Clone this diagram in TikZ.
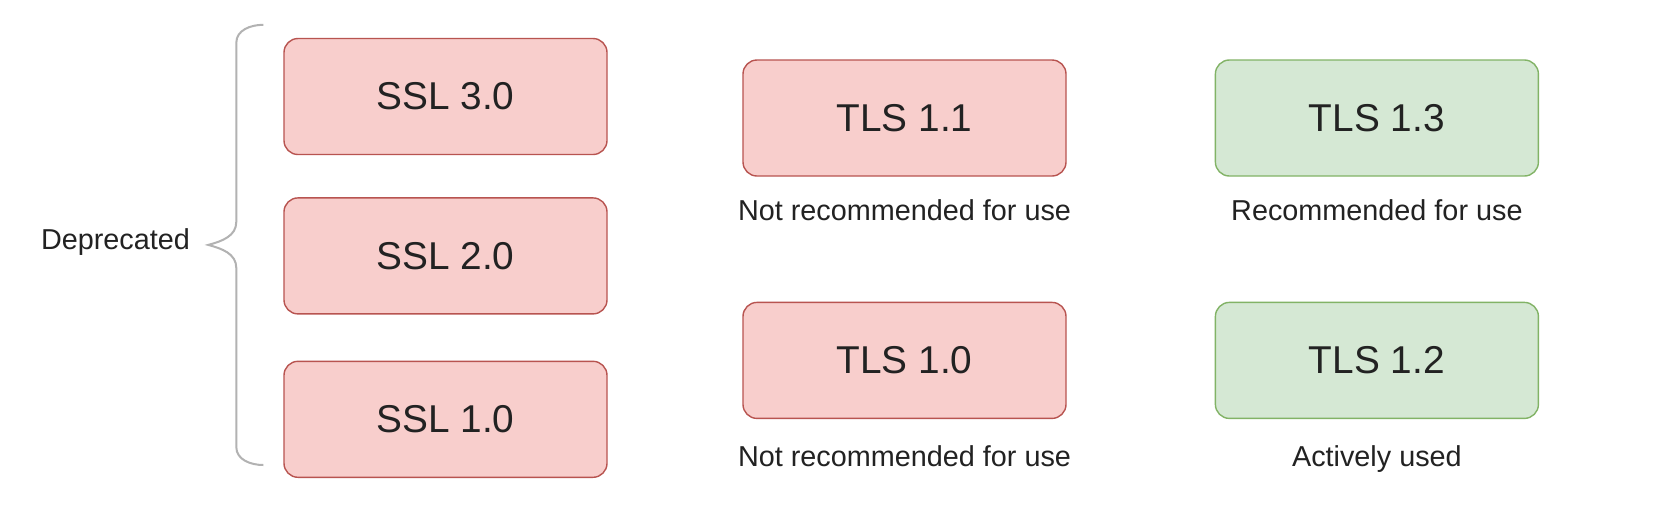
\documentclass[tikz,border=0pt]{standalone}
\usepackage{fontspec}
\setmainfont{Liberation Sans}
\usetikzlibrary{positioning,calc}

\definecolor{redfill}{HTML}{F8CECC}
\definecolor{redline}{HTML}{B85450}
\definecolor{greenfill}{HTML}{D5E8D4}
\definecolor{greenline}{HTML}{82B366}
\definecolor{ink}{HTML}{222222}

\begin{document}
\begin{tikzpicture}[
    box/.style={rectangle,rounded corners=7pt,line width=0.7pt,minimum width=161.5pt,
                minimum height=58pt,text=ink,font=\fontsize{19.4}{23}\selectfont},
    redbox/.style={box,fill=redfill,draw=redline},
    greenbox/.style={box,fill=greenfill,draw=greenline},
    note/.style={inner sep=0pt,text height=10.3pt,text depth=3pt,text=ink,
                 font=\fontsize{14.4}{17}\selectfont},
    bracket/.style={draw=black!30,line width=1pt}]
      \useasboundingbox[fill=white] (0,0) rectangle (830pt,-255pt);

      \node[redbox]   (ssl3) at (222.75pt,-48.25pt) {SSL 3.0};
      \node[redbox]   (ssl2) [below=21pt of ssl3]   {SSL 2.0};
      \node[redbox]   (ssl1) [below=23pt of ssl2]   {SSL 1.0};

      \node[redbox]   (tls11) at (452.25pt,-59pt)    {TLS 1.1};
      \node[redbox]   (tls10) [below=62.5pt of tls11] {TLS 1.0};
      \node[greenbox] (tls13) [right=74pt of tls11]   {TLS 1.3};
      \node[greenbox] (tls12) [below=62.5pt of tls13] {TLS 1.2};

      \node[note] (use11) [below=11.5pt of tls11] {Not recommended for use};
      \node[note] (use10) [below=13pt of tls10]   {Not recommended for use};
      \node[note] (use13) [below=11.5pt of tls13] {Recommended for use};
      \node[note] (use12) [below=13pt of tls12]   {Actively used};

      \coordinate (btop) at ($(ssl3.north west)+(-10pt,6.5pt)$);
      \coordinate (bbot) at ($(ssl1.south west)+(-10pt,6.5pt)$);
      \coordinate (tip)  at ($($(btop)!0.5!(bbot)$)+(-27.5pt,0)$);
      \node[note,anchor=east] (dep) [left=9pt of tip,yshift=1.5pt] {Deprecated};

      \draw[bracket] (btop) to[out=180,in=90] ($(btop)+(-13.5pt,-9pt)$)
        -- ($(tip)+(14pt,11.5pt)$) to[out=-90,in=15] (tip)
        to[out=-15,in=90] ($(tip)+(14pt,-11.5pt)$)
        -- ($(bbot)+(-13.5pt,9pt)$) to[out=-90,in=180] (bbot);
    \end{tikzpicture}
\end{document}
